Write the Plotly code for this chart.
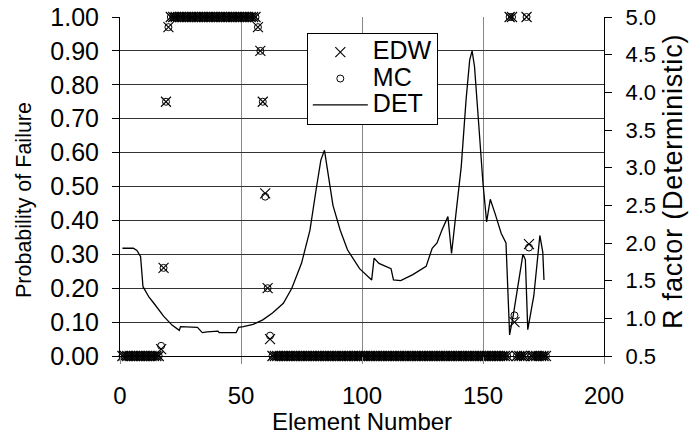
import plotly.graph_objects as go

# ---------------- data ----------------
element = list(range(1, 177))

edw = ([0.0] * 16 + [0.02, 0.26, 0.75, 0.97] + [1.0] * 36 +
       [0.97, 0.90, 0.75, 0.48, 0.20, 0.05] + [0.0] * 98 +
       [1.0, 1.0, 0.10] + [0.0] * 4 + [1.0, 0.33] + [0.0] * 7)

mc = ([0.0] * 16 + [0.03, 0.26, 0.75, 0.97] + [1.0] * 36 +
      [0.97, 0.90, 0.75, 0.47, 0.20, 0.06] + [0.0] * 98 +
      [1.0, 1.0, 0.12] + [0.0] * 4 + [1.0, 0.32] + [0.0] * 7)

det_elem = [1, 5.5, 7, 8.5, 9.5, 12, 14, 18, 21.5, 24.5, 25, 32, 34, 36, 40.5, 41,
            48, 49, 51, 55, 59, 63, 67.5, 71, 75, 78.5, 81, 83, 84.5, 86.5, 88,
            91, 94, 99, 104, 105, 107, 112, 113, 116, 121, 126.5, 129, 131, 133,
            135.5, 137, 139, 141, 143, 144.5, 145.5, 146.5, 148, 150, 151.5, 153,
            155, 157.5, 159.5, 161, 162.5, 164.5, 166.5, 167.5, 168.5, 171, 172.5,
            173.5, 174.7, 175.2]
det_r = [1.93, 1.93, 1.90, 1.82, 1.42, 1.28, 1.20, 1.03, 0.91, 0.84, 0.89, 0.88,
         0.81, 0.82, 0.83, 0.81, 0.81, 0.88, 0.89, 0.92, 0.98, 1.07, 1.20, 1.40,
         1.73, 2.17, 2.70, 3.10, 3.23, 2.79, 2.50, 2.17, 1.91, 1.66, 1.51, 1.80,
         1.73, 1.66, 1.51, 1.50, 1.58, 1.69, 1.93, 2.00, 2.17, 2.35, 1.86, 2.44,
         3.01, 3.90, 4.43, 4.55, 4.34, 3.68, 2.79, 2.28, 2.58, 2.39, 2.13, 2.00,
         0.78, 1.04, 1.45, 1.85, 1.78, 0.85, 1.30, 1.80, 2.10, 1.88, 1.51]

left_ticks = [0.0, 0.1, 0.2, 0.3, 0.4, 0.5, 0.6, 0.7, 0.8, 0.9, 1.0]
right_ticks = [0.5, 1.0, 1.5, 2.0, 2.5, 3.0, 3.5, 4.0, 4.5, 5.0]
x_ticks = [0, 50, 100, 150, 200]

FONT = "Arial, Liberation Sans, sans-serif"


def big(label):
    return "<span style='font-size:25px'>" + label + "</span>"


fig = go.Figure()
fig.add_trace(go.Scatter(
    x=element, y=edw, mode="markers", name=big("EDW"), cliponaxis=False,
    marker=dict(symbol="x-thin", size=10, color="black",
                line=dict(color="black", width=1.1))))
fig.add_trace(go.Scatter(
    x=element, y=mc, mode="markers", name=big("MC"), cliponaxis=False,
    marker=dict(symbol="circle-open", size=7, color="black",
                line=dict(color="black", width=1))))
fig.add_trace(go.Scatter(
    x=det_elem, y=det_r, mode="lines", name=big("DET"), yaxis="y2",
    line=dict(color="black", width=1.3)))

fig.update_layout(
    width=689, height=437,
    margin=dict(l=120, r=85, t=17, b=81),
    paper_bgcolor="white", plot_bgcolor="white",
    font=dict(family=FONT, size=24, color="black"),
    showlegend=True,
    legend=dict(x=0.386, y=0.953, xanchor="left", yanchor="top",
                bgcolor="white", bordercolor="black", borderwidth=1,
                font=dict(size=18), tracegroupgap=0, itemwidth=55),
    xaxis=dict(range=[0, 200], tickvals=x_ticks, showgrid=True,
               gridcolor="#888888", gridwidth=1, zeroline=False,
               showline=True, linecolor="black", linewidth=1,
               ticks="outside", ticklen=7, tickcolor="#888888",
               ticklabelstandoff=11, automargin=False,
               tickfont=dict(size=24)),
    yaxis=dict(range=[0, 1], tickvals=left_ticks, tickformat=".2f",
               showgrid=True, gridcolor="#333333", gridwidth=1,
               zeroline=False, showline=True, linecolor="black", linewidth=1,
               ticks="outside", ticklen=7, tickcolor="black",
               ticklabelstandoff=8, automargin=False,
               tickfont=dict(size=25)),
    yaxis2=dict(range=[0.5, 5.0], tickvals=right_ticks, tickformat=".1f",
                overlaying="y", side="right", showgrid=False, zeroline=False,
                showline=True, linecolor="black", linewidth=1,
                ticks="outside", ticklen=7, tickcolor="black",
                ticklabelstandoff=9, automargin=False,
                tickfont=dict(size=22)),
    annotations=[
        dict(text="Element Number", xref="paper", yref="paper",
             x=(362 - 120) / 484, y=(356 - 421) / 339,
             xanchor="center", yanchor="middle", showarrow=False,
             font=dict(size=24)),
        dict(text="Probability of Failure", xref="paper", yref="paper",
             x=(24 - 120) / 484, y=(356 - 200) / 339, textangle=-90,
             xanchor="center", yanchor="middle", showarrow=False,
             font=dict(size=21.5)),
        dict(text="<span style='letter-spacing:0.8px'>R factor (Deterministic)</span>",
             xref="paper", yref="paper",
             x=(673 - 120) / 484, y=(356 - 182) / 339, textangle=-90,
             xanchor="center", yanchor="middle", showarrow=False,
             font=dict(size=27)),
    ],
)

fig.write_html("out.html")
